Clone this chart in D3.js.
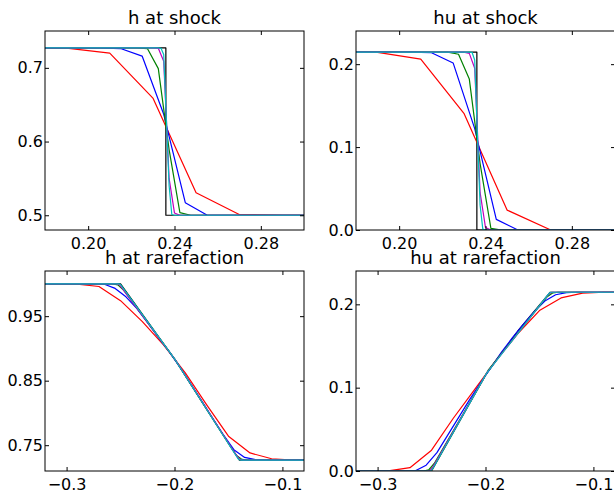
<!DOCTYPE html>
<html>
<head>
<meta charset="utf-8">
<script src="https://cdn.jsdelivr.net/npm/d3@7"></script>
<style>
  body { margin: 0; background: #fff; }
  svg { display: block; font-family: "DejaVu Sans", sans-serif; }
</style>
</head>
<body>
<div id="chart"></div>
<script>
// ---- data: shock region ----
const blackShockX  = [0.17, 0.236, 0.236, 0.31];
const blackShockH  = [0.727, 0.727, 0.5, 0.5];
const blackShockHU = [0.2145, 0.2145, 0, 0];

const redShockX  = [0.17, 0.19, 0.21, 0.23, 0.25, 0.27, 0.29, 0.31];
const redShockH  = [0.727, 0.7268, 0.720, 0.659, 0.5305, 0.501, 0.5, 0.5];
const redShockHU = [0.2145, 0.2142, 0.206, 0.1407, 0.024, 0.0003, 0, 0];

const blueShockX  = [0.175, 0.205, 0.215, 0.225, 0.235, 0.245, 0.255, 0.265, 0.305];
const blueShockH  = [0.727, 0.727, 0.7262, 0.716, 0.637, 0.517, 0.5003, 0.5, 0.5];
const blueShockHU = [0.2145, 0.2145, 0.2138, 0.2015, 0.1223, 0.0128, 0.0001, 0, 0];

const greenShockX  = [0.1775, 0.2225, 0.2275, 0.2325, 0.2375, 0.2425, 0.2475, 0.3025];
const greenShockH  = [0.727, 0.727, 0.726, 0.699, 0.589, 0.5035, 0.5, 0.5];
const greenShockHU = [0.2145, 0.2145, 0.212, 0.182, 0.08, 0.002, 0, 0];

const magentaShockX  = [0.1775, 0.23, 0.2325, 0.235, 0.2375, 0.24, 0.2425, 0.3025];
const magentaShockH  = [0.727, 0.727, 0.7265, 0.709, 0.55, 0.503, 0.5, 0.5];
const magentaShockHU = [0.2145, 0.2145, 0.213, 0.195, 0.045, 0.003, 0, 0];

const cyanShockX  = [0.18, 0.2325, 0.23375, 0.235, 0.23625, 0.2375, 0.23875, 0.24, 0.30];
const cyanShockH  = [0.727, 0.727, 0.7265, 0.718, 0.63, 0.54, 0.501, 0.5, 0.5];
const cyanShockHU = [0.2145, 0.2145, 0.2143, 0.205, 0.115, 0.03, 0.001, 0, 0];

// ---- data: rarefaction region ----
const blackRareX  = [-0.33, -0.25, -0.225, -0.2, -0.17, -0.14, -0.07];
const blackRareH  = [1, 1, 0.942, 0.884, 0.805, 0.727, 0.727];
const blackRareHU = [0, 0, 0.0575, 0.115, 0.168, 0.2145, 0.2145];

const redRareX  = [-0.33, -0.31, -0.29, -0.27, -0.25, -0.23, -0.21, -0.19, -0.17, -0.15, -0.13, -0.11, -0.09, -0.07];
const redRareH  = [1, 1, 0.9998, 0.996, 0.974, 0.942, 0.905, 0.862, 0.812, 0.764, 0.738, 0.729, 0.727, 0.727];
const redRareHU = [0, 0, 0.0001, 0.004, 0.025, 0.063, 0.098, 0.133, 0.165, 0.1925, 0.2077, 0.2135, 0.2145, 0.2145];

const blueRareX  = [-0.325, -0.275, -0.265, -0.255, -0.245, -0.235, -0.225, -0.215, -0.205, -0.195,
                    -0.185, -0.175, -0.165, -0.155, -0.145, -0.135, -0.125, -0.115, -0.075];
const blueRareH  = [1, 1, 0.9995, 0.993, 0.98, 0.962, 0.94, 0.917, 0.895, 0.871,
                    0.845, 0.819, 0.793, 0.767, 0.743, 0.731, 0.7275, 0.727, 0.727];
const blueRareHU = [0, 0, 0.0003, 0.007, 0.022, 0.043, 0.064, 0.085, 0.105, 0.124,
                    0.143, 0.16, 0.176, 0.191, 0.204, 0.2115, 0.214, 0.2145, 0.2145];

const greenRareX  = [-0.3275, -0.2575, -0.2525, -0.2475, -0.2425, -0.2025, -0.1975, -0.1475, -0.1425, -0.1375, -0.1325, -0.0775];
const greenRareH  = [1, 1, 0.9985, 0.991, 0.98, 0.8895, 0.8775, 0.746, 0.734, 0.728, 0.727, 0.727];
const greenRareHU = [0, 0, 0.0015, 0.009, 0.02, 0.109, 0.121, 0.202, 0.2095, 0.2138, 0.2145, 0.2145];

const magentaRareX  = [-0.32625, -0.25375, -0.25125, -0.24875, -0.24625, -0.20125, -0.19875, -0.14375, -0.14125, -0.13875, -0.13625, -0.07625];
const magentaRareH  = [1, 1, 0.999, 0.994, 0.988, 0.887, 0.881, 0.737, 0.731, 0.7275, 0.727, 0.727];
const magentaRareHU = [0, 0, 0.0008, 0.005, 0.0105, 0.112, 0.118, 0.2085, 0.2125, 0.2143, 0.2145, 0.2145];

const cyanRareX  = [-0.32563, -0.25188, -0.25063, -0.24938, -0.24813, -0.20063, -0.19938, -0.14188, -0.14063, -0.13938, -0.13813, -0.07563];
const cyanRareH  = [1, 1, 0.9997, 0.9975, 0.9945, 0.8855, 0.8825, 0.731, 0.728, 0.7271, 0.727, 0.727];
const cyanRareHU = [0, 0, 0.0002, 0.002, 0.0045, 0.1135, 0.1165, 0.212, 0.2138, 0.2145, 0.2145, 0.2145];

// ---- axes settings ----
const shockTicksX = [0.20, 0.24, 0.28];
const rareTicksX  = [-0.3, -0.2, -0.1];
const hShockTicksY = [0.5, 0.6, 0.7];
const huTicksY     = [0.0, 0.1, 0.2];
const hRareTicksY  = [0.75, 0.85, 0.95];

const colors = { black: '#000000', red: '#ff0000', blue: '#0000ff', green: '#008000', magenta: '#bf00bf', cyan: '#00bfbf' };

const W = 614, H = 493;
const svg = d3.select('#chart').append('svg').attr('width', W).attr('height', H);

function series(color, xs, ys) {
  return { color, pts: xs.map((x, i) => [x, ys[i]]) };
}

const panels = [
  { title: 'h at shock', left: 45, top: 31, w: 259, h: 199,
    xd: [0.18, 0.30], yd: [0.48, 0.75], xt: shockTicksX, yt: hShockTicksY, xf: '.2f', yf: '.1f',
    lines: [series('black', blackShockX, blackShockH), series('red', redShockX, redShockH),
            series('blue', blueShockX, blueShockH), series('green', greenShockX, greenShockH),
            series('magenta', magentaShockX, magentaShockH), series('cyan', cyanShockX, cyanShockH)] },
  { title: 'hu at shock', left: 356, top: 31, w: 259, h: 199,
    xd: [0.18, 0.30], yd: [0, 0.24], xt: shockTicksX, yt: huTicksY, xf: '.2f', yf: '.1f',
    lines: [series('black', blackShockX, blackShockHU), series('red', redShockX, redShockHU),
            series('blue', blueShockX, blueShockHU), series('green', greenShockX, greenShockHU),
            series('magenta', magentaShockX, magentaShockHU), series('cyan', cyanShockX, cyanShockHU)] },
  { title: 'h at rarefaction', left: 45, top: 271, w: 259, h: 200,
    xd: [-0.32, -0.08], yd: [0.71, 1.02], xt: rareTicksX, yt: hRareTicksY, xf: '.1f', yf: '.2f',
    lines: [series('black', blackRareX, blackRareH), series('red', redRareX, redRareH),
            series('blue', blueRareX, blueRareH), series('green', greenRareX, greenRareH),
            series('magenta', magentaRareX, magentaRareH), series('cyan', cyanRareX, cyanRareH)] },
  { title: 'hu at rarefaction', left: 356, top: 271, w: 259, h: 200,
    xd: [-0.32, -0.08], yd: [0, 0.24], xt: rareTicksX, yt: huTicksY, xf: '.1f', yf: '.1f',
    lines: [series('black', blackRareX, blackRareHU), series('red', redRareX, redRareHU),
            series('blue', blueRareX, blueRareHU), series('green', greenRareX, greenRareHU),
            series('magenta', magentaRareX, magentaRareHU), series('cyan', cyanRareX, cyanRareHU)] }
];

panels.forEach((p, pi) => {
  const x = d3.scaleLinear().domain(p.xd).range([0, p.w]);
  const y = d3.scaleLinear().domain(p.yd).range([p.h, 0]);
  const g = svg.append('g').attr('transform', `translate(${p.left},${p.top})`);

  g.append('clipPath').attr('id', 'clip' + pi)
    .append('rect').attr('width', p.w).attr('height', p.h);

  const line = d3.line().x(d => x(d[0])).y(d => y(d[1]));
  g.append('g').attr('clip-path', `url(#clip${pi})`)
    .selectAll('path').data(p.lines).join('path')
      .attr('d', d => line(d.pts))
      .attr('fill', 'none')
      .attr('stroke', d => colors[d.color])
      .attr('stroke-width', 1.2)
      .attr('stroke-linejoin', 'round');

  // frame
  g.append('rect').attr('width', p.w).attr('height', p.h)
    .attr('fill', 'none').attr('stroke', '#000').attr('stroke-width', 1);

  // inward ticks on all four sides
  const tick = 4;
  const axB = d3.axisBottom(x).tickValues(p.xt).tickFormat(d3.format(p.xf)).tickSizeInner(-tick).tickSizeOuter(0).tickPadding(8);
  const axT = d3.axisTop(x).tickValues(p.xt).tickFormat('').tickSizeInner(-tick).tickSizeOuter(0);
  const axL = d3.axisLeft(y).tickValues(p.yt).tickFormat(d3.format(p.yf)).tickSizeInner(-tick).tickSizeOuter(0).tickPadding(2);
  const axR = d3.axisRight(y).tickValues(p.yt).tickFormat('').tickSizeInner(-tick).tickSizeOuter(0);

  [[axB, `translate(0,${p.h})`], [axT, null], [axL, null], [axR, `translate(${p.w},0)`]].forEach(([ax, tr]) => {
    const a = g.append('g').call(ax);
    if (tr) a.attr('transform', tr);
    a.select('.domain').remove();
    a.selectAll('line').attr('stroke', '#000');
    a.selectAll('text').attr('font-size', 16).attr('fill', '#000')
      .attr('font-family', '"DejaVu Sans", sans-serif');
  });

  g.append('text')
    .attr('x', p.w / 2).attr('y', -7.5)
    .attr('text-anchor', 'middle')
    .attr('font-size', 18)
    .text(p.title);
});
</script>
</body>
</html>
